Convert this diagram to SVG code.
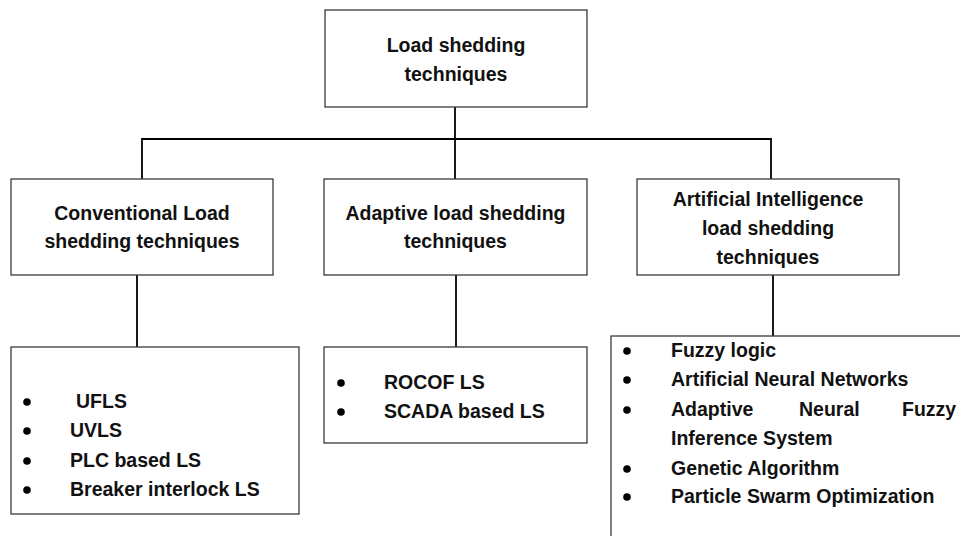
<svg xmlns="http://www.w3.org/2000/svg" width="960" height="536" viewBox="0 0 960 536">
  <style>
    .box { fill: #ffffff; stroke: #3a3a3a; stroke-width: 1.3; }
    .wire { fill: none; stroke: #000000; stroke-width: 1.8; }
    .t { font-family: "Liberation Sans", Arial, sans-serif; font-weight: bold; font-size: 19.5px; fill: #111111; }
    .c { text-anchor: middle; }
    .dot { fill: #000000; }
  </style>
  <defs>
    <circle id="bullet" class="dot" r="3.8"/>
  </defs>
  <rect width="960" height="536" fill="#ffffff"/>

  <!-- connectors -->
  <g id="connectors">
    <line class="wire" x1="455" y1="107" x2="455" y2="179"/>
    <polyline class="wire" points="142,179 142,139 771,139 771,179"/>
    <polyline class="wire" points="137,275 137,348 150,348"/>
    <line class="wire" x1="456" y1="275" x2="456" y2="347"/>
    <line class="wire" x1="773" y1="275" x2="773" y2="336"/>
  </g>

  <!-- root -->
  <g id="root">
    <rect class="box" x="325" y="10" width="262" height="97"/>
    <text class="t c" x="456" y="52">Load shedding</text>
    <text class="t c" x="456" y="81">techniques</text>
  </g>

  <!-- categories -->
  <g id="conventional">
    <rect class="box" x="11" y="179" width="262" height="96"/>
    <text class="t c" x="142" y="220">Conventional Load</text>
    <text class="t c" x="142" y="248">shedding techniques</text>
  </g>
  <g id="adaptive">
    <rect class="box" x="324" y="179" width="263" height="96"/>
    <text class="t c" x="455.5" y="220">Adaptive load shedding</text>
    <text class="t c" x="455.5" y="248">techniques</text>
  </g>
  <g id="ai">
    <rect class="box" x="637" y="179" width="262" height="96"/>
    <text class="t c" x="768" y="206">Artificial Intelligence</text>
    <text class="t c" x="768" y="235">load shedding</text>
    <text class="t c" x="768" y="264">techniques</text>
  </g>

  <!-- method lists -->
  <g id="conventional-list">
    <rect class="box" x="11" y="347" width="288" height="167"/>
    <use href="#bullet" x="27" y="402"/>
    <use href="#bullet" x="27" y="431"/>
    <use href="#bullet" x="27" y="461"/>
    <use href="#bullet" x="27" y="490"/>
    <text class="t" x="76" y="408">UFLS</text>
    <text class="t" x="70" y="437">UVLS</text>
    <text class="t" x="70" y="467">PLC based LS</text>
    <text class="t" x="70" y="496">Breaker interlock LS</text>
  </g>
  <g id="adaptive-list">
    <rect class="box" x="324" y="347" width="263" height="96"/>
    <use href="#bullet" x="341" y="383"/>
    <use href="#bullet" x="341" y="412"/>
    <text class="t" x="384" y="389">ROCOF LS</text>
    <text class="t" x="384" y="418">SCADA based LS</text>
  </g>
  <g id="ai-list">
    <rect class="box" x="611" y="336" width="400" height="250"/>
    <use href="#bullet" x="627" y="351"/>
    <use href="#bullet" x="627" y="380"/>
    <use href="#bullet" x="627" y="410"/>
    <use href="#bullet" x="627" y="469"/>
    <use href="#bullet" x="627" y="497"/>
    <text class="t" x="671" y="357">Fuzzy logic</text>
    <text class="t" x="671" y="386">Artificial Neural Networks</text>
    <text class="t" x="671" y="416">Adaptive</text>
    <text class="t" x="799" y="416">Neural</text>
    <text class="t" x="902" y="416">Fuzzy</text>
    <text class="t" x="671" y="445">Inference System</text>
    <text class="t" x="671" y="475">Genetic Algorithm</text>
    <text class="t" x="671" y="503">Particle Swarm Optimization</text>
  </g>
</svg>
